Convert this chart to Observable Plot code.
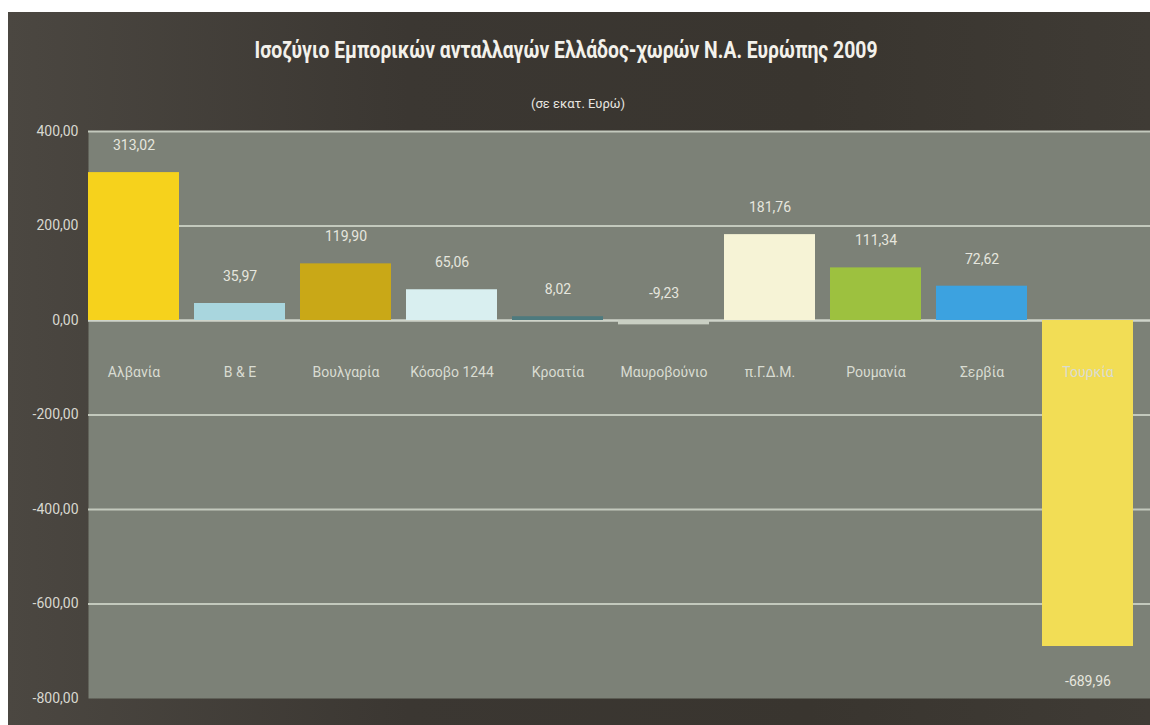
<!DOCTYPE html>
<html><head><meta charset="utf-8">
<script src="https://cdn.jsdelivr.net/npm/d3@7"></script>
<script src="https://cdn.jsdelivr.net/npm/@observablehq/plot@0.6"></script>
<style>
body{margin:0;background:#fff;width:1150px;height:725px;overflow:hidden;position:relative;font-family:Roboto,"DejaVu Sans",sans-serif}
#bg{position:absolute;left:8px;top:12px;width:1142px;height:713px;background:linear-gradient(90deg,#4b4741,#3b3732 35%,#39352f 70%,#3f3b35)}
#title{position:absolute;left:566px;top:37px;color:#f3f1eb;font-size:23px;font-weight:bold;white-space:nowrap;transform-origin:0 0}
#sub{position:absolute;left:8px;width:1140px;top:96px;text-align:center;color:#e8e6e0;font-size:13px;white-space:nowrap}
#chart{position:absolute;left:0;top:120px}
</style>
</head><body>
<div id="bg"></div>
<div id="title">Ισοζύγιο Εμπορικών ανταλλαγών Ελλάδος-χωρών Ν.Α. Ευρώπης 2009</div>
<div id="sub">(σε εκατ. Ευρώ)</div>
<div id="chart"></div>
<script>
const categories = ["Αλβανία","Β & Ε","Βουλγαρία","Κόσοβο 1244","Κροατία","Μαυροβούνιο","π.Γ.Δ.Μ.","Ρουμανία","Σερβία","Τουρκία"];
const values = [313.02, 35.97, 119.90, 65.06, 8.02, -9.23, 181.76, 111.34, 72.62, -689.96];
const barColors = ["#f6d21c","#a9d6de","#c9a817","#d9eff0","#4d7a7e","#c9cfc3","#f6f3d6","#9dc13f","#3ca2e0","#f2dd55"];
const yTicks = [400, 200, 0, -200, -400, -600, -800];

// condense the title to the reference width (~623px), centred at x=566
const t = document.getElementById("title");
const w = t.getBoundingClientRect().width;
const s = 623 / w;
t.style.transform = `translateX(${-311.5}px) scaleX(${s})`;

const fmt = v => v.toFixed(2).replace(".", ",");
const data = categories.map((c, i) => ({cat: c, v: values[i], color: barColors[i]}));
const font = 'Roboto,"DejaVu Sans",sans-serif';

const chart = Plot.plot({
  width: 1150, height: 605,
  marginTop: 11, marginLeft: 88, marginRight: 0, marginBottom: 27,
  style: {background: "transparent", fontFamily: font, fontSize: "13px", color: "#d6d6ce"},
  x: {domain: categories, paddingInner: 0.138, paddingOuter: 0.045, align: 0, axis: null},
  y: {domain: [-800, 400], label: null, axis: null},
  color: {type: "identity"},
  marks: [
    Plot.frame({fill: "#7c8177", stroke: null}),
    Plot.text(yTicks, {y: d => d, text: d => fmt(d), frameAnchor: "left", textAnchor: "end", dx: -10, fill: "#d8d8d0", fontSize: 14}),
    Plot.ruleY(yTicks.filter(t => t > -800 && t !== 0), {stroke: "#c3c9bd", strokeWidth: 2}),
    Plot.ruleY([0], {stroke: "#cfd4ca", strokeWidth: 2.5}),
    Plot.barY(data, {x: "cat", y: "v", fill: "color"}),
    Plot.text(data, {x: "cat", y: () => 0, text: "cat", dy: 52, fill: "#d9dcd2", fontSize: 14}),
    Plot.text(data, {x: "cat", y: d => Math.max(d.v, 0), text: d => fmt(d.v), fill: "#e6e6de", fontSize: 14,
      filter: d => d.v > -100, dy: -27}),
    Plot.text(data, {x: "cat", y: "v", text: d => fmt(d.v), fill: "#e6e6de", fontSize: 14,
      filter: d => d.v <= -100, dy: 35})
  ]
});
document.getElementById("chart").appendChild(chart);
</script>
</body></html>
